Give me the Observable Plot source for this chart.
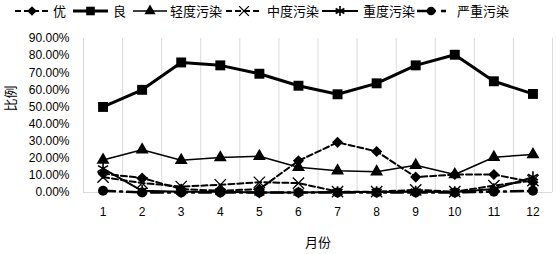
<!DOCTYPE html>
<html>
<head>
<meta charset="utf-8">
<script src="https://cdn.jsdelivr.net/npm/d3@7"></script>
<script src="https://cdn.jsdelivr.net/npm/@observablehq/plot@0.6"></script>
<style>
  body { margin: 0; background: #fff; }
  #wrap { width: 557px; height: 254px; position: relative; font-family: "Liberation Sans", "Noto Sans CJK SC", sans-serif; }
  #legend { display: block; }
</style>
</head>
<body>
<div id="wrap"><svg id="legend" width="557" height="22"></svg><div id="chart"></div></div>
<script>
const months = [1, 2, 3, 4, 5, 6, 7, 8, 9, 10, 11, 12];
const seriesNames = ["优", "良", "轻度污染", "中度污染", "重度污染", "严重污染"];
const you      = [11, 8.5, 2, 1, 2, 18.5, 29.3, 24, 9, 10.5, 10.5, 6];
const liang    = [50, 60, 76, 74.3, 69.4, 62.4, 57.4, 63.8, 74.3, 80.5, 65, 57.6];
const qingdu   = [19, 25, 18.9, 20.4, 21.2, 14.8, 12.7, 12.1, 15.9, 10.5, 20.6, 22.2];
const zhongdu  = [9, 5.5, 3.5, 4.5, 6, 5.5, 0.5, 0.5, 1.5, 0.5, 4, 7];
const zhongdu2 = [14, 1, 0.5, 0.5, 0, 0, 0.3, 0.3, 0.5, 0.3, 2, 9];
const yanzhong = [1, 0, 0, 0, 0, 0, 0, 0, 0, 0, 0.5, 1];
const yTicks = [0, 10, 20, 30, 40, 50, 60, 70, 80, 90];

const values = [you, liang, qingdu, zhongdu, zhongdu2, yanzhong];
const styles = [
  {sw: 2, dash: "6,3", symbol: "diamond2", r: 5, fill: "black", stroke: "none", psw: 1},
  {sw: 3, dash: null, symbol: "square", r: 5.6, fill: "black", stroke: "none", psw: 1},
  {sw: 1.5, dash: null, symbol: "triangle", r: 4.8, fill: "black", stroke: "none", psw: 1},
  {sw: 2, dash: "6,3", symbol: "times", r: 5.2, fill: "none", stroke: "black", psw: 1.3},
  {sw: 2, dash: null, symbol: "asterisk", r: 5.5, fill: "none", stroke: "black", psw: 1.6},
  {sw: 2.5, dash: "12,5,2,5", symbol: "circle", r: 5, fill: "black", stroke: "none", psw: 1}
];

const data = seriesNames.flatMap((name, s) => months.map((m, i) => ({series: name, month: m, value: values[s][i]})));
const bounds = [months[0] - 0.5, ...months.map(m => m + 0.5)];

const font = '"Liberation Sans", "Noto Sans CJK SC", sans-serif';
const marks = [
  Plot.ruleX(bounds, {x: d => d, y1: 0, y2: 90, stroke: "#d9d9d9", strokeWidth: 1}),
  Plot.ruleY([0], {stroke: "#d9d9d9", strokeWidth: 1}),
  Plot.axisY({ticks: yTicks, tickSize: 0, tickPadding: 14, tickFormat: d => d.toFixed(2) + "%", label: null, fontSize: 12}),
  Plot.axisX({ticks: months, tickSize: 0, tickPadding: 15, label: null, fontSize: 12}),
  Plot.text(["比例"], {text: d => d, frameAnchor: "left", dx: -73, dy: -4, rotate: -90, fontSize: 13}),
  Plot.text(["月份"], {text: d => d, frameAnchor: "bottom", dy: 54, fontSize: 13})
];
seriesNames.forEach((name, s) => {
  const st = styles[s];
  const d = data.filter(r => r.series === name);
  marks.push(Plot.line(d, {x: "month", y: "value", stroke: "black", strokeWidth: st.sw, strokeDasharray: st.dash, strokeLinejoin: "round"}));
  marks.push(Plot.dot(d, {x: "month", y: "value", symbol: () => st.symbol, r: st.r, fill: st.fill, stroke: st.stroke, strokeWidth: st.psw}));
});

const chart = Plot.plot({
  width: 557,
  height: 232,
  marginLeft: 83,
  marginRight: 5,
  marginTop: 16,
  marginBottom: 62,
  style: {fontFamily: font, fontSize: "12px", color: "#000", background: "#fff"},
  x: {type: "linear", domain: [0.5, 12.5]},
  y: {domain: [0, 90]},
  symbol: {type: "identity"},
  marks
});
document.getElementById("chart").appendChild(chart);

// legend
const lg = d3.select("#legend");
const items = [
  {x1: 15, x2: 49, tx: 53},
  {x1: 73, x2: 108, tx: 113},
  {x1: 133, x2: 167, tx: 170},
  {x1: 226, x2: 262, tx: 267},
  {x1: 322, x2: 358, tx: 363},
  {x1: 417, x2: 446, tx: 457}
];
const symMap = {diamond2: d3.symbolDiamond2, square: d3.symbolSquare, triangle: d3.symbolTriangle, times: d3.symbolTimes, asterisk: d3.symbolAsterisk, circle: d3.symbolCircle};
const cy = 11;
seriesNames.forEach((name, s) => {
  const st = styles[s], it = items[s];
  lg.append("line").attr("x1", it.x1).attr("x2", it.x2).attr("y1", cy).attr("y2", cy)
    .attr("stroke", "black").attr("stroke-width", st.sw).attr("stroke-dasharray", st.dash);
  lg.append("path").attr("transform", `translate(${s === 5 ? 431 : (it.x1 + it.x2) / 2},${cy})`)
    .attr("d", d3.symbol(symMap[st.symbol], Math.PI * st.r * st.r * 0.75)())
    .attr("fill", st.fill).attr("stroke", st.stroke).attr("stroke-width", st.psw);
  lg.append("text").attr("x", it.tx).attr("y", cy).attr("dy", "0.35em")
    .attr("font-family", font).attr("font-size", 13).text(name);
});
</script>
</body>
</html>
